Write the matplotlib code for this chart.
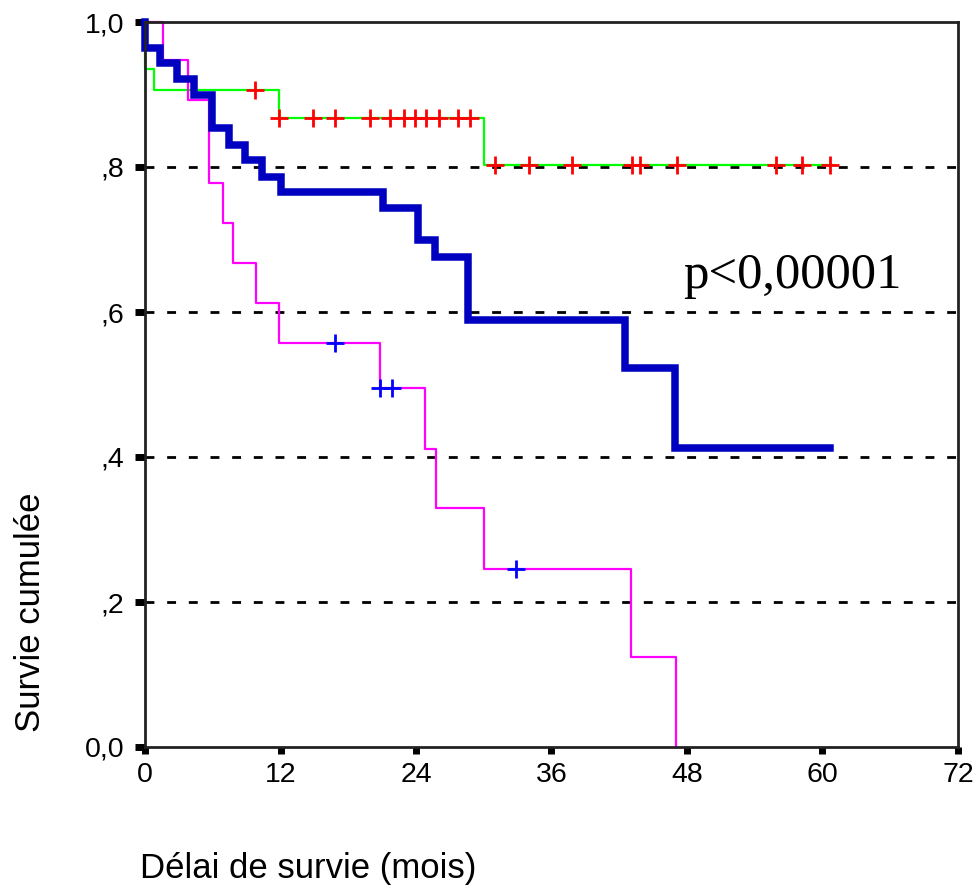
import numpy as np
import matplotlib
matplotlib.use("Agg")
import matplotlib.pyplot as plt

# ---- data ----
blue_t = [0, 0, 1.3, 2.8, 4.3, 5.9, 7.4, 8.9, 10.4, 12.0, 21.1, 24.2, 25.7, 28.6, 42.5, 46.9, 60.7]
blue_s = [1.0, 0.964, 0.943, 0.921, 0.899, 0.854, 0.830, 0.809, 0.786, 0.766, 0.743, 0.700, 0.676, 0.589, 0.523, 0.412, 0.412]

mag_t = [0, 1.6, 3.8, 5.7, 6.9, 7.8, 9.8, 11.9, 20.8, 24.8, 25.8, 30.0, 43.0, 47.0]
mag_s = [1.0, 0.947, 0.892, 0.778, 0.723, 0.668, 0.612, 0.557, 0.495, 0.411, 0.330, 0.246, 0.124, 0.0]
mag_cens = [16.8, 20.8, 21.9, 32.9]

green_t = [0, 0, 0.8, 11.9, 30.0, 61.0]
green_s = [1.0, 0.935, 0.906, 0.868, 0.803, 0.803]
green_cens = [9.7, 11.9, 14.9, 16.8, 19.9, 21.7, 22.9, 23.9, 24.9, 26.0, 27.7, 28.8,
              31.0, 34.0, 37.8, 43.1, 43.8, 47.1, 55.9, 58.2, 60.7]

x_ticks = [0, 12, 24, 36, 48, 60, 72]
y_ticks = [0.0, 0.2, 0.4, 0.6, 0.8, 1.0]
y_ticklabels = ["0,0", ",2", ",4", ",6", ",8", "1,0"]
x_label = "Délai de survie (mois)"
y_label = "Survie cumulée"
p_text = "p<0,00001"


def step_value(ts, ss, t):
    ts = np.asarray(ts)
    ss = np.asarray(ss)
    idx = np.searchsorted(ts, t, side="right") - 1
    return ss[max(idx, 0)]


W, H = 978, 891
fig = plt.figure(figsize=(W / 100, H / 100), dpi=100)
ax = fig.add_axes([145 / W, 1 - 747 / H, (958 - 145) / W, (747 - 22) / H])

sans = "Liberation Sans"

# grid lines
for yv in y_ticks[1:-1]:
    ax.axhline(yv, color="black", lw=2.0, linestyle=(0, (3.2, 4.6)), zorder=1)

# green curve + red censors
ax.step(green_t, green_s, where="post", color="#00FF00", lw=1.6, zorder=3, clip_on=False)
ax.plot(green_cens, [step_value(green_t, green_s, t) for t in green_cens], linestyle="none",
        marker="+", ms=13, mew=2.0, color="#FF0000", zorder=4, clip_on=False)

# magenta curve + blue censors
ax.step(mag_t, mag_s, where="post", color="#FF00FF", lw=1.6, zorder=3, clip_on=False)
ax.plot(mag_cens, [step_value(mag_t, mag_s, t) for t in mag_cens], linestyle="none",
        marker="+", ms=13, mew=2.0, color="#0000FF", zorder=4, clip_on=False)

# thick blue curve
ax.step(blue_t, blue_s, where="post", color="#0000C0", lw=5.4, zorder=5, clip_on=False,
        solid_joinstyle="miter")

ax.set_xlim(0, 72)
ax.set_ylim(0, 1.0)
ax.set_xticks(x_ticks)
ax.set_xticklabels([str(v) for v in x_ticks], fontsize=20.5, fontfamily=sans)
ax.set_yticks(y_ticks)
ax.set_yticklabels(y_ticklabels, fontsize=20.5, fontfamily=sans)
ax.tick_params(axis="x", direction="out", length=5, width=5, pad=6, color="black")
ax.tick_params(axis="y", direction="out", length=7, width=5, pad=8, color="black")
for sp in ax.spines.values():
    sp.set_linewidth(2.0)
    sp.set_color("#222222")
    sp.set_zorder(6)

fig.text(683 / W, 1 - 288 / H, p_text, fontsize=36.5, fontfamily="Liberation Serif",
         ha="left", va="baseline")
fig.text(140 / W, 1 - 878 / H, x_label, fontsize=25, fontfamily=sans, ha="left", va="baseline")
fig.text(31 / W, 1 - 612 / H, y_label, fontsize=25, fontfamily=sans, ha="center", va="center",
         rotation=90)

fig.savefig("out.png", dpi=100, facecolor="white")
